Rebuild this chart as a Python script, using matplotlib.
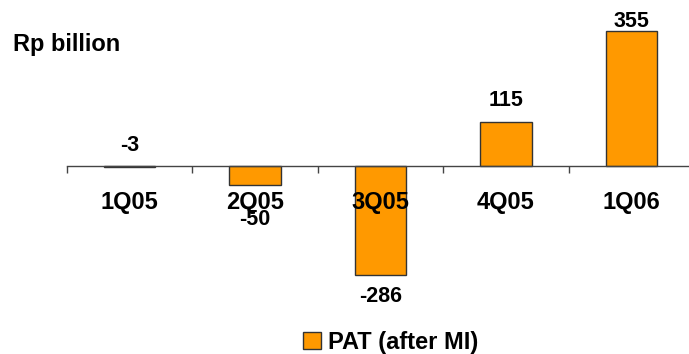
import matplotlib
matplotlib.use("Agg")
import matplotlib.pyplot as plt
from matplotlib.patches import Patch

quarters = ["1Q05", "2Q05", "3Q05", "4Q05", "1Q06"]
pat_after_mi = [-3, -50, -286, 115, 355]

# label offsets in points (placement as in the original slide)
label_offsets = [8, -17, -8, 8, -1]

plt.rcParams["font.family"] = ["Liberation Sans", "DejaVu Sans"]
plt.rcParams["font.weight"] = "bold"

fig = plt.figure(figsize=(6.89, 3.54), dpi=100)
ax = fig.add_axes([67 / 689, (354 - 280) / 354, 627 / 689, 260 / 354])

x = range(len(quarters))
bars = ax.bar(x, pat_after_mi, width=0.41, color="#FF9900",
              edgecolor="#333333", linewidth=1.0, label="PAT (after MI)")

ax.set_xlim(-0.5, len(quarters) - 0.5)
ax.set_ylim(-300, 384)

for s in ["left", "right", "top"]:
    ax.spines[s].set_visible(False)
ax.spines["bottom"].set_position(("data", 0))
ax.spines["bottom"].set_color("#444444")
ax.spines["bottom"].set_linewidth(1.0)
ax.set_yticks([])

ax.set_xticks(list(x))
ax.set_xticklabels(quarters, fontsize=17, fontweight="bold")
ax.tick_params(axis="x", which="major", length=0, pad=18)
ax.set_xticks([i - 0.5 for i in range(len(quarters) + 1)], minor=True)
ax.tick_params(axis="x", which="minor", length=5, direction="out",
               color="#444444", width=1.0)

for bar, v, off in zip(bars, pat_after_mi, label_offsets):
    y = bar.get_height()
    ax.annotate(str(v), (bar.get_x() + bar.get_width() / 2, y),
                xytext=(0, off), textcoords="offset points",
                ha="center", va="bottom" if off > 0 or v > 0 else "top",
                fontsize=15.5, fontweight="bold")

fig.text(13 / 689, 1 - 45 / 354, "Rp billion", fontsize=17,
         fontweight="bold", va="center", ha="left")

handle = Patch(facecolor="#FF9900", edgecolor="#333333", linewidth=1.0)
fig.legend([handle], ["PAT (after MI)"], loc="center",
           bbox_to_anchor=(391 / 689, 1 - 342 / 354), frameon=False,
           prop={"size": 17, "weight": "bold"}, handlelength=0.75,
           handleheight=0.75, handletextpad=0.3, borderpad=0.1)

fig.savefig("out.png", dpi=100)
